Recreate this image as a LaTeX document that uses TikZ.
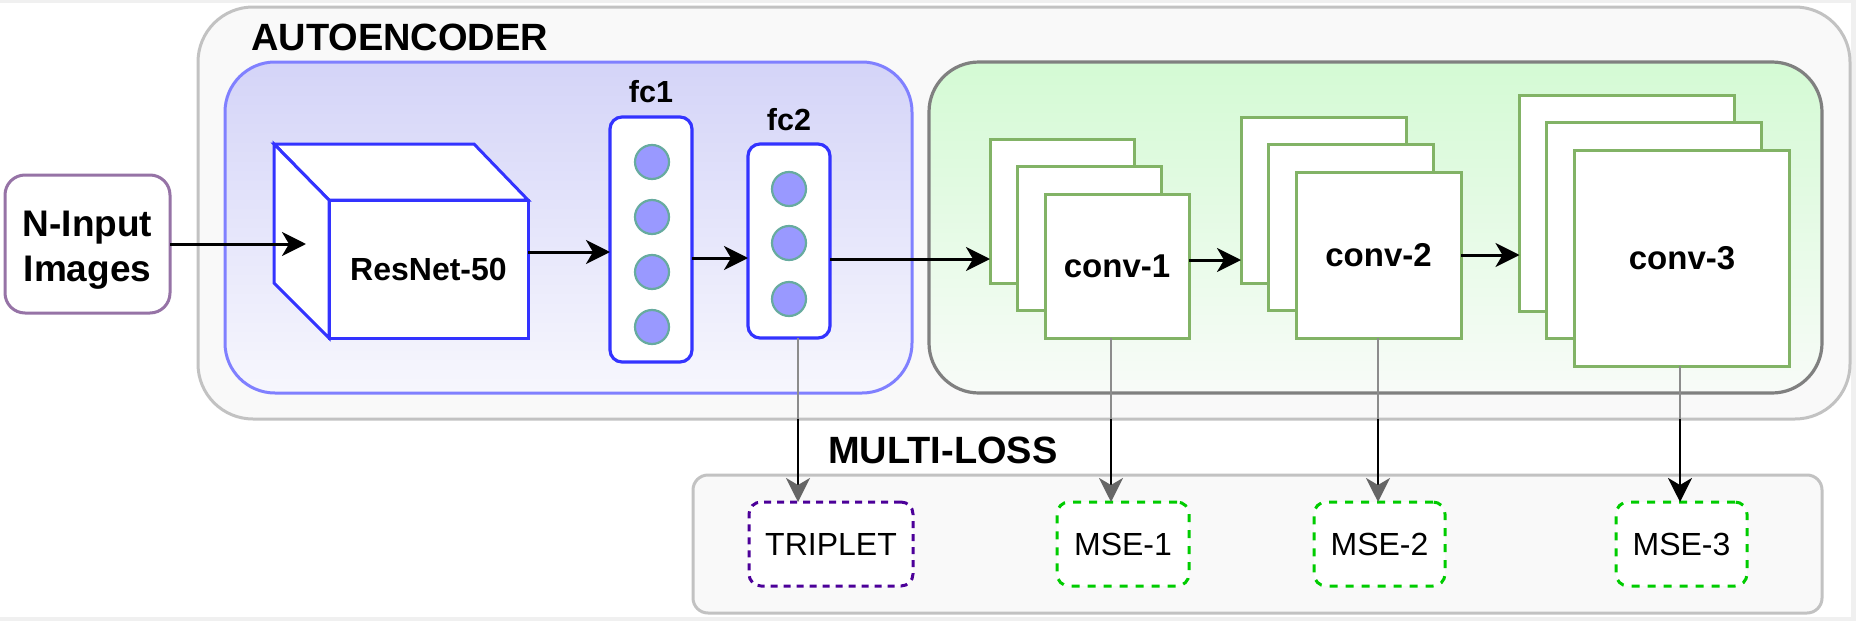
\documentclass[tikz,border=0pt]{standalone}
\usepackage{fontspec}
\setmainfont{Liberation Sans}
\usetikzlibrary{arrows.meta}
\definecolor{bgc}{HTML}{F0F0F0}
\definecolor{aefill}{HTML}{F9F9F9}
\definecolor{aedraw}{HTML}{C2C2C2}
\definecolor{enctop}{HTML}{D4D4F8}
\definecolor{encbot}{HTML}{F7F7FD}
\definecolor{encdraw}{HTML}{8080FF}
\definecolor{dectop}{HTML}{D4FAD4}
\definecolor{decbot}{HTML}{F8FBF8}
\definecolor{decdraw}{HTML}{808080}
\definecolor{blueline}{HTML}{3333FF}
\definecolor{neufill}{HTML}{9999FF}
\definecolor{neudraw}{HTML}{67AB9F}
\definecolor{convdraw}{HTML}{82B366}
\definecolor{nindraw}{HTML}{9673A6}
\definecolor{tripdraw}{HTML}{4C0099}
\definecolor{msedraw}{HTML}{00CC00}
\definecolor{connGray}{HTML}{666666}
\definecolor{segGray}{HTML}{8C8C8C}
\begin{document}
\begin{tikzpicture}[x=1pt,y=-1pt,
  bx/.style={rectangle,inner sep=0pt,outer sep=0pt},
  titlefont/.style={font=\fontsize{38}{45}\selectfont\bfseries},
  aebox/.style={bx,rounded corners=55pt,fill=aefill,draw=aedraw,line width=3pt},
  encbox/.style={bx,rounded corners=50pt,top color=enctop,bottom color=encbot,draw=encdraw,line width=3pt},
  decbox/.style={bx,rounded corners=50pt,top color=dectop,bottom color=decbot,draw=decdraw,line width=3.2pt},
  ninbox/.style={bx,rounded corners=20pt,fill=white,draw=nindraw,line width=3pt},
  nintext/.style={inner sep=0pt,align=center,font=\fontsize{37}{45}\selectfont\bfseries},
  cubeface/.style={fill=white,draw=blueline,line width=3pt,line join=miter},
  fcbox/.style={bx,rounded corners=12pt,fill=white,draw=blueline,line width=3.2pt},
  fclabel/.style={font=\fontsize{30.5}{36}\selectfont\bfseries,inner sep=0pt,anchor=base},
  neuron/.style={circle,inner sep=0pt,minimum size=34pt,fill=neufill,draw=neudraw,line width=2.2pt},
  convbox/.style={bx,fill=white,draw=convdraw,line width=3pt,font=\fontsize{33}{39}\selectfont\bfseries},
  lossbox/.style={bx,rounded corners=15pt,fill=aefill,draw=aedraw,line width=3pt},
  lossnode/.style={bx,rounded corners=12pt,fill=white,line width=3pt,minimum height=84pt,
     font=\fontsize{32}{38}\selectfont},
  tripbox/.style={lossnode,draw=tripdraw,dash pattern=on 7pt off 6pt},
  msebox/.style={lossnode,draw=msedraw,dash pattern=on 8pt off 8pt},
  arr/.style={line width=3pt,-{Stealth[length=24pt,width=24pt,inset=7pt]}},
  varr/.style={line width=2.8pt,-{Stealth[length=24pt,width=24pt,inset=7pt,color=connGray]}},
  varrk/.style={line width=2.8pt,-{Stealth[length=24pt,width=24pt,inset=7pt]}},
  seg/.style={line width=2.8pt,draw=segGray}
]
% canvas
\fill[bgc] (0,0) rectangle (1856,621);
\fill[white] (0,3) rectangle (1851,617);
\useasboundingbox (0,0) rectangle (1856,621);

% autoencoder container
\node[aebox,minimum width=1652pt,minimum height=412pt] (ae) at (1024,213) {};
\node[titlefont,inner sep=0pt,anchor=base west] (aetitle) at (251,50) {AUTOENCODER};
\node[encbox,minimum width=687pt,minimum height=331pt] (enc) at (568.5,227.5) {};
\node[decbox,minimum width=893pt,minimum height=331pt] (dec) at (1375.5,227.5) {};

% input
\node[ninbox,minimum width=165pt,minimum height=138pt] (nin) at (87.5,244) {};
\node[nintext,anchor=base] (ninl1) at (87.5,236) {N-Input};
\node[nintext,anchor=base] (ninl2) at (87.5,281) {Images};

% cube
\draw[cubeface] (274,144) -- (474,144) -- (528,200) -- (329,200) -- cycle;
\draw[cubeface] (274,144) -- (329,200) -- (329,338) -- (274,283) -- cycle;
\node[bx,cubeface,minimum width=199pt,minimum height=138pt,font=\fontsize{32}{38}\selectfont\bfseries]
  (resnet) at (428.5,269) {ResNet-50};
\coordinate (cubein) at (306,244);

% fc layers
\node[fcbox,minimum width=82pt,minimum height=245pt] (fc1) at (651,239.5) {};
\node[fclabel] (fc1lab) at (651,102) {fc1};
\node[neuron] (n11) at (652,162) {};
\node[neuron] (n12) at (652,217) {};
\node[neuron] (n13) at (652,272) {};
\node[neuron] (n14) at (652,327) {};
\node[fcbox,minimum width=82pt,minimum height=194pt] (fc2) at (789,241) {};
\node[fclabel] (fc2lab) at (789,130) {fc2};
\node[neuron] (n21) at (789,189) {};
\node[neuron] (n22) at (789,243) {};
\node[neuron] (n23) at (789,299) {};

% conv stacks
\node[convbox,minimum width=144pt,minimum height=144pt] (c1a) at (1062,211) {};
\node[convbox,minimum width=144pt,minimum height=144pt] (c1b) at (1089.5,238.5) {};
\node[convbox,minimum width=144pt,minimum height=144pt] (c1c) at (1117,266) {conv-1};
\node[convbox,minimum width=165pt,minimum height=166pt] (c2a) at (1323.5,200) {};
\node[convbox,minimum width=165pt,minimum height=166pt] (c2b) at (1351,227.5) {};
\node[convbox,minimum width=165pt,minimum height=166pt] (c2c) at (1378.5,255) {conv-2};
\node[convbox,minimum width=215pt,minimum height=216pt] (c3a) at (1627,203) {};
\node[convbox,minimum width=215pt,minimum height=216pt] (c3b) at (1654,230.5) {};
\node[convbox,minimum width=215pt,minimum height=216pt] (c3c) at (1682,258) {conv-3};

% multi-loss
\node[titlefont,inner sep=0pt,anchor=base west] (mltitle) at (828,463) {MULTI-LOSS};
\node[lossbox,minimum width=1129pt,minimum height=138pt] (loss) at (1257.5,544) {};
\node[tripbox,minimum width=164pt] (trip) at (831,544) {TRIPLET};
\node[msebox,minimum width=132pt] (mse1) at (1123,544) {MSE-1};
\node[msebox,minimum width=131pt] (mse2) at (1379.5,544) {MSE-2};
\node[msebox,minimum width=131pt] (mse3) at (1681.5,544) {MSE-3};

% horizontal connectors
\coordinate (yA) at (0,252);
\coordinate (yB) at (0,258);
\coordinate (yC) at (0,259);
\coordinate (yD) at (0,260);
\coordinate (yE) at (0,255);
\draw[arr] (nin.east) -- (cubein);
\draw[arr] (resnet.east |- yA) -- (fc1.west |- yA);
\draw[arr] (fc1.east |- yB) -- (fc2.west |- yB);
\draw[arr] (fc2.east |- yC) -- (c1a.west |- yC);
\draw[arr] (c1c.east |- yD) -- (c2a.west |- yD);
\draw[arr] (c2c.east |- yE) -- (c3a.west |- yE);

% vertical connectors
\coordinate (x1) at (798,0);
\coordinate (x2) at (1111,0);
\coordinate (x3) at (1378,0);
\coordinate (x4) at (1680,0);
\draw[varr] (fc2.south -| x1) -- (trip.north -| x1);
\draw[varr] (c1c.south -| x2) -- (mse1.north -| x2);
\draw[varr] (c2c.south -| x3) -- (mse2.north -| x3);
\draw[varrk] (c3c.south -| x4) -- (mse3.north -| x4);
\draw[seg] (fc2.south -| x1) -- (ae.south -| x1);
\draw[seg] (c1c.south -| x2) -- (ae.south -| x2);
\draw[seg] (c2c.south -| x3) -- (ae.south -| x3);
\draw[seg] (c3c.south -| x4) -- (ae.south -| x4);
\end{tikzpicture}
\end{document}
